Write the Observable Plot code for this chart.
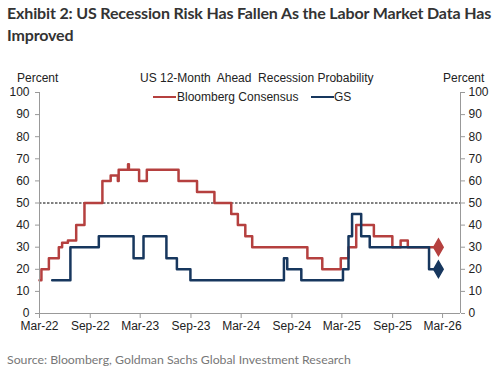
<!DOCTYPE html>
<html>
<head>
<meta charset="utf-8">
<script src="https://cdn.jsdelivr.net/npm/d3@7"></script>
<script src="https://cdn.jsdelivr.net/npm/@observablehq/plot@0.6"></script>
<style>
  html, body { margin: 0; padding: 0; background: #fff; }
  body { width: 500px; height: 376px; position: relative; overflow: hidden; }
  .abs { position: absolute; white-space: nowrap; }
  #title { left: 7px; top: 2px; font-family: Lato, "Open Sans", sans-serif; font-weight: 700; font-size: 16px; letter-spacing: -0.15px; line-height: 22px; color: #333; }
  .lbl { font-family: "Liberation Sans", Arial, sans-serif; font-size: 12px; line-height: 14px; color: #222; }
  #source { left: 7px; top: 351px; font-family: Lato, "Open Sans", sans-serif; font-size: 12.3px; line-height: 18px; color: #777; }
  #chart { left: 0; top: 60px; }
  .sw { position: absolute; height: 2.5px; }
</style>
</head>
<body>
<div id="title" class="abs">Exhibit 2: US Recession Risk Has Fallen As the Labor Market Data Has<br>Improved</div>
<div id="chart" class="abs"></div>
<div class="abs lbl" style="left:17px; top:71px;">Percent</div>
<div class="abs lbl" style="left:443px; top:71px;">Percent</div>
<div class="abs lbl" style="left:140px; top:71px;">US 12-Month&nbsp; Ahead&nbsp; Recession Probability</div>
<div class="sw" style="left:153px; top:95.5px; width:23px; background:#b5403f;"></div>
<div class="abs lbl" style="left:177px; top:90px;">Bloomberg Consensus</div>
<div class="sw" style="left:311px; top:95.5px; width:23px; background:#17375e;"></div>
<div class="abs lbl" style="left:334px; top:90px;">GS</div>
<div id="source" class="abs">Source: Bloomberg, Goldman Sachs Global Investment Research</div>
<script>
// Bloomberg Consensus (percent), step series
const bbgDates = ["2022-03-01","2022-03-08","2022-04-04","2022-05-10","2022-05-22","2022-06-12","2022-07-12","2022-08-11","2022-10-15","2022-11-14","2022-12-10","2022-12-13","2023-01-16","2023-01-19","2023-02-25","2023-03-25","2023-07-18","2023-09-23","2023-11-25","2024-01-25","2024-02-18","2024-03-16","2024-04-10","2024-10-27","2024-12-20","2025-02-25","2025-03-25","2025-04-22","2025-06-25","2025-08-31","2025-09-30","2025-10-26","2026-02-14"];
const bbgValues = [15,20,25,30,32,33,40,50,60,62.5,60,65,67.5,65,60,65,60,55,50,45,40,35,30,25,20,25,30,40,35,30,33,30,30];

// Goldman Sachs (percent), step series
const gsDates = ["2022-04-16","2022-06-21","2022-10-02","2023-02-05","2023-03-13","2023-06-04","2023-07-12","2023-08-30","2024-08-03","2024-08-15","2024-10-05","2025-03-05","2025-03-25","2025-04-07","2025-05-10","2025-06-10","2026-01-11","2026-02-14"];
const gsValues = [15,30,35,25,35,25,20,15,25,20,15,20,35,45,35,30,20,20];

const yTicks = [0,10,20,30,40,50,60,70,80,90,100];
const xTickLabels = ["Mar-22","Sep-22","Mar-23","Sep-23","Mar-24","Sep-24","Mar-25","Sep-25","Mar-26"];
const xTickDates = ["2022-03-01","2022-09-01","2023-03-01","2023-09-01","2024-03-01","2024-09-01","2025-03-01","2025-09-01","2026-03-01"];
const xDomain = ["2022-03-01","2026-05-05"];
const threshold = [50];

const RED = "#b5403f", NAVY = "#17375e";
const bbg = bbgDates.map((d, i) => ({date: new Date(d), value: bbgValues[i]}));
const gs = gsDates.map((d, i) => ({date: new Date(d), value: gsValues[i]}));
const dom = xDomain.map(d => new Date(d));
const tickDates = xTickDates.map(d => new Date(d));
const labelOf = new Map(tickDates.map((d, i) => [+d, xTickLabels[i]]));

const chart = Plot.plot({
  width: 500, height: 285,
  marginLeft: 39, marginRight: 40, marginTop: 32, marginBottom: 32,
  x: {type: "utc", domain: dom},
  y: {domain: [0, 100]},
  style: {fontFamily: "'Liberation Sans', Arial, sans-serif", fontSize: "12px", color: "#222", background: "white", overflow: "visible"},
  marks: [
    Plot.ruleY(threshold, {stroke: "#000", strokeWidth: 1, strokeDasharray: "2.5,1.5"}),
    Plot.lineY(bbg, {x: "date", y: "value", curve: "step-after", stroke: RED, strokeWidth: 2.5}),
    Plot.lineY(gs, {x: "date", y: "value", curve: "step-after", stroke: NAVY, strokeWidth: 2.5}),
    Plot.dot([bbg[bbg.length - 1]], {x: "date", y: "value", symbol: "diamond", r: 5, fill: RED, stroke: RED}),
    Plot.dot([gs[gs.length - 1]], {x: "date", y: "value", symbol: "diamond", r: 5, fill: NAVY, stroke: NAVY}),
    Plot.ruleX([dom[0]], {stroke: "#999"}),
    Plot.ruleX([dom[1]], {stroke: "#999"}),
    Plot.ruleY([0], {stroke: "#999"}),
    Plot.axisY({anchor: "left", ticks: yTicks, tickSize: 4, tickPadding: 6, stroke: "#999", fill: "#222", label: null}),
    Plot.axisY({anchor: "right", ticks: yTicks, tickSize: 4, tickPadding: 4, stroke: "#999", fill: "#222", label: null}),
    Plot.axisX({ticks: tickDates, tickFormat: d => labelOf.get(+d), tickSize: 5, tickPadding: 3, stroke: "#999", fill: "#222", label: null})
  ]
});
document.getElementById("chart").appendChild(chart);
</script>
</body>
</html>
